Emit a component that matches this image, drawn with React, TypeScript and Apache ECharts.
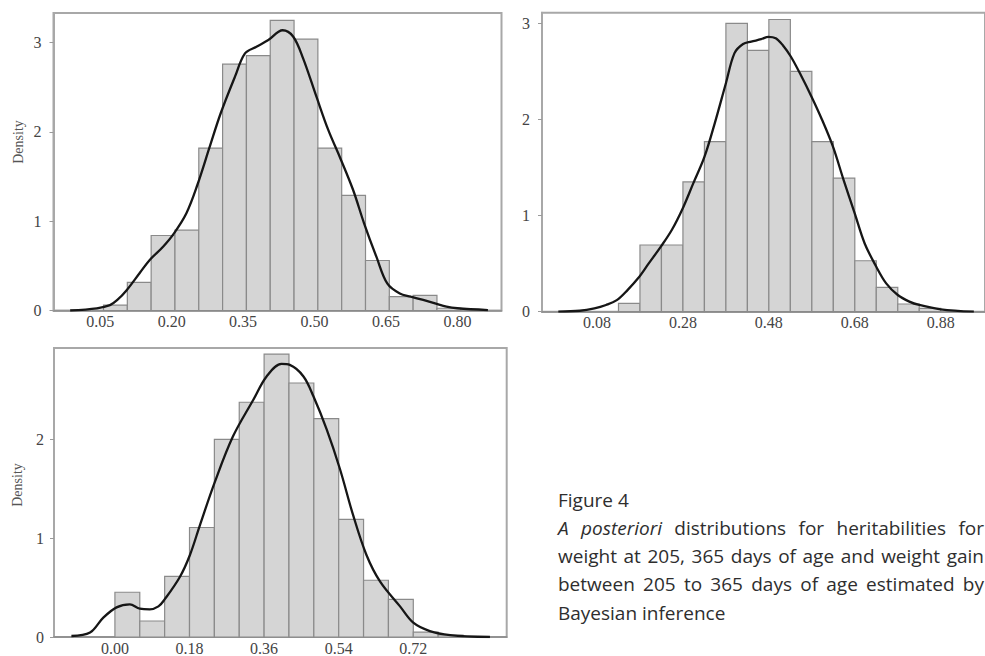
import React, { useEffect, useRef } from "react";
import * as echarts from "echarts";

// ---------- data ----------
const p1BinStart = 0.057;
const p1BinWidth = 0.05;
const p1Heights = [0.06, 0.315, 0.84, 0.9, 1.82, 2.76, 2.855, 3.25, 3.04, 1.82, 1.29, 0.56, 0.155, 0.17, 0.025];
const p1Curve: [number, number][] = [
  [-0.013, 0.0], [0.043, 0.025], [0.0705, 0.06], [0.086, 0.118], [0.106, 0.23], [0.133, 0.42],
  [0.154, 0.566], [0.182, 0.715], [0.205, 0.865], [0.231, 1.09], [0.254, 1.406], [0.28, 1.835],
  [0.303, 2.21], [0.333, 2.62], [0.354, 2.88], [0.378, 2.955], [0.403, 3.03], [0.433, 3.14],
  [0.455, 3.07], [0.476, 2.825], [0.504, 2.395], [0.529, 2.02], [0.553, 1.72], [0.581, 1.35],
  [0.604, 0.977], [0.63, 0.6], [0.653, 0.3], [0.679, 0.19], [0.702, 0.155], [0.728, 0.118],
  [0.753, 0.08], [0.777, 0.043], [0.8, 0.025], [0.864, 0.005],
];
const p1XTicks = [0.05, 0.2, 0.35, 0.5, 0.65, 0.8];
const p1YTicks = [0, 1, 2, 3];

const p2BinStart = 0.13;
const p2BinWidth = 0.05;
const p2Heights = [0.087, 0.694, 0.694, 1.35, 1.77, 3.0, 2.72, 3.04, 2.5, 1.77, 1.39, 0.53, 0.254, 0.08, 0.035];
const p2Curve: [number, number][] = [
  [-0.01, 0.0], [0.04, 0.01], [0.074, 0.035], [0.101, 0.07], [0.126, 0.12], [0.151, 0.225],
  [0.176, 0.35], [0.2, 0.5], [0.229, 0.68], [0.254, 0.85], [0.28, 1.08], [0.304, 1.335],
  [0.33, 1.61], [0.354, 1.96], [0.38, 2.377], [0.4, 2.69], [0.42, 2.785], [0.439, 2.81],
  [0.462, 2.835], [0.479, 2.86], [0.496, 2.845], [0.512, 2.775], [0.531, 2.655], [0.554, 2.465],
  [0.579, 2.24], [0.604, 1.995], [0.629, 1.72], [0.654, 1.37], [0.68, 1.02], [0.703, 0.71],
  [0.73, 0.468], [0.753, 0.295], [0.78, 0.174], [0.807, 0.105], [0.83, 0.07], [0.88, 0.025],
  [0.957, 0.0],
];
const p2XTicks = [0.08, 0.28, 0.48, 0.68, 0.88];
const p2YTicks = [0, 1, 2, 3];

const p3BinStart = 0.0;
const p3BinWidth = 0.06;
const p3Heights = [0.453, 0.162, 0.614, 1.108, 2.0, 2.375, 2.863, 2.57, 2.21, 1.19, 0.574, 0.38, 0.05, 0.02];
const p3Curve: [number, number][] = [
  [-0.105, 0.01], [-0.06, 0.045], [-0.028, 0.196], [0.004, 0.3], [0.036, 0.33], [0.06, 0.286],
  [0.084, 0.28], [0.105, 0.31], [0.12, 0.38], [0.157, 0.61], [0.181, 0.83], [0.205, 1.13],
  [0.241, 1.567], [0.285, 2.03], [0.334, 2.4], [0.366, 2.636], [0.402, 2.763], [0.422, 2.753],
  [0.455, 2.636], [0.479, 2.435], [0.511, 2.1], [0.543, 1.7], [0.575, 1.23], [0.607, 0.83],
  [0.64, 0.56], [0.688, 0.31], [0.72, 0.145], [0.76, 0.06], [0.809, 0.02], [0.905, 0.0],
];
const p3XTicks = [0.0, 0.18, 0.36, 0.54, 0.72];
const p3YTicks = [0, 1, 2];

const yAxisTitle = "Density";
const captionTitle = "Figure 4";
const captionLine2 = ["A", "posteriori", "distributions", "for", "heritabilities", "for"];
const captionLine2Italic = [true, true, false, false, false, false];
const captionLine3 = ["weight", "at", "205,", "365", "days", "of", "age", "and", "weight", "gain"];
const captionLine4 = ["between", "205", "to", "365", "days", "of", "age", "estimated", "by"];
const captionLine5 = "Bayesian inference";

// ---------- helpers ----------
const binsToData = (start: number, width: number, heights: number[]) =>
  heights.map((h, i) => [start + i * width, start + (i + 1) * width, h]);

const SERIF = "'Liberation Serif', 'DejaVu Serif', serif";
const SANS = "'Open Sans', 'Noto Sans', sans-serif";
const CAP_SIZE = 19;
const CAP_COLOR = "#2e2e2e";
const CAP_LEFT = 558;
const CAP_RIGHT = 984;

const measureCtx = (() => {
  const c = document.createElement("canvas");
  return c.getContext("2d") as CanvasRenderingContext2D;
})();
const textWidth = (t: string, italic: boolean) => {
  measureCtx.font = `${italic ? "italic " : ""}${CAP_SIZE}px ${SANS}`;
  return measureCtx.measureText(t).width;
};

const justify = (words: string[], italics: boolean[], y: number) => {
  const widths = words.map((w, i) => textWidth(w, italics[i]));
  const total = widths.reduce((a, b) => a + b, 0);
  const gap = (CAP_RIGHT - CAP_LEFT - total) / (words.length - 1);
  let x = CAP_LEFT;
  return words.map((w, i) => {
    const el = {
      type: "text",
      x,
      y,
      style: {
        text: w,
        fontFamily: SANS,
        fontSize: CAP_SIZE,
        fontStyle: italics[i] ? "italic" : "normal",
        fill: CAP_COLOR,
        verticalAlign: "middle",
      },
    };
    x += widths[i] + gap;
    return el;
  });
};

const renderBar = (params: any, api: any) => {
  const x0 = api.value(0);
  const x1 = api.value(1);
  const h = api.value(2);
  const a = api.coord([x0, h]);
  const b = api.coord([x1, 0]);
  return {
    type: "rect",
    shape: { x: a[0], y: a[1], width: b[0] - a[0], height: b[1] - a[1] },
    style: { fill: "#d5d5d5", stroke: "#8a8a8a", lineWidth: 1.2 },
  };
};

export default function App() {
  const ref = useRef<HTMLDivElement>(null);

  useEffect(() => {
    if (!ref.current) return;
    const chart = echarts.init(ref.current, undefined, { renderer: "svg" });

    const grids = [
      { left: 53.5, top: 13, width: 448, height: 297.5 },
      { left: 542, top: 12.7, width: 446, height: 299 },
      { left: 54, top: 348, width: 452.7, height: 291.5 },
    ];
    const xRanges = [
      [-0.048, 0.8925],
      [-0.048, 0.983],
      [-0.147, 0.9454],
    ];
    const yMax = [3.333, 3.111, 2.924];
    const xTicks = [p1XTicks, p2XTicks, p3XTicks];
    const yTicks = [p1YTicks, p2YTicks, p3YTicks];
    const yMargins = [12, 12, 10];

    const option: any = {
      animation: false,
      backgroundColor: "#ffffff",
      grid: grids.map((g) => ({
        ...g,
        show: true,
        borderColor: "#a8a8a8",
        borderWidth: 2,
        backgroundColor: "#ffffff",
        containLabel: false,
      })),
      xAxis: xRanges.map((r, i) => ({
        type: "value",
        gridIndex: i,
        min: r[0],
        max: r[1],
        splitLine: { show: false },
        axisLine: { show: true, onZero: false, lineStyle: { color: "#8a8a8a", width: 1.6 } },
        axisTick: { show: false, customValues: xTicks[i] },
        axisLabel: {
          customValues: xTicks[i],
          formatter: (v: number) => v.toFixed(2),
          fontFamily: SERIF,
          fontSize: 16,
          color: "#444444",
          margin: 3,
        },
      })),
      yAxis: yMax.map((m, i) => ({
        type: "value",
        gridIndex: i,
        min: 0,
        max: m,
        splitLine: { show: false },
        axisLine: { show: true, onZero: false, lineStyle: { color: "#a8a8a8", width: 2 } },
        axisTick: {
          show: true,
          customValues: yTicks[i],
          length: 4,
          lineStyle: { color: "#9a9a9a", width: 1 },
        },
        axisLabel: {
          customValues: yTicks[i],
          formatter: (v: number) => String(v),
          fontFamily: SERIF,
          fontSize: 16,
          color: "#444444",
          margin: yMargins[i],
        },
      })),
      series: [
        {
          type: "custom",
          xAxisIndex: 0,
          yAxisIndex: 0,
          renderItem: renderBar,
          encode: { x: [0, 1], y: 2 },
          data: binsToData(p1BinStart, p1BinWidth, p1Heights),
          z: 2,
        },
        {
          type: "custom",
          xAxisIndex: 1,
          yAxisIndex: 1,
          renderItem: renderBar,
          encode: { x: [0, 1], y: 2 },
          data: binsToData(p2BinStart, p2BinWidth, p2Heights),
          z: 2,
        },
        {
          type: "custom",
          xAxisIndex: 2,
          yAxisIndex: 2,
          renderItem: renderBar,
          encode: { x: [0, 1], y: 2 },
          data: binsToData(p3BinStart, p3BinWidth, p3Heights),
          z: 2,
        },
        ...[p1Curve, p2Curve, p3Curve].map((c, i) => ({
          type: "line",
          xAxisIndex: i,
          yAxisIndex: i,
          data: c,
          smooth: 0.35,
          showSymbol: false,
          symbol: "none",
          lineStyle: { color: "#161616", width: 2.3 },
          z: 5,
        })),
      ],
      graphic: [
        {
          type: "text",
          x: 18,
          y: 142,
          rotation: Math.PI / 2,
          style: {
            text: yAxisTitle,
            fontFamily: SERIF,
            fontSize: 14,
            fill: "#555555",
            align: "center",
            verticalAlign: "middle",
          },
        },
        {
          type: "text",
          x: 17,
          y: 485,
          rotation: Math.PI / 2,
          style: {
            text: yAxisTitle,
            fontFamily: SERIF,
            fontSize: 14,
            fill: "#555555",
            align: "center",
            verticalAlign: "middle",
          },
        },
        {
          type: "text",
          x: CAP_LEFT,
          y: 500,
          style: { text: captionTitle, fontFamily: SANS, fontSize: CAP_SIZE, fill: CAP_COLOR, verticalAlign: "middle" },
        },
        ...justify(captionLine2, captionLine2Italic, 528.3),
        ...justify(captionLine3, captionLine3.map(() => false), 556),
        ...justify(captionLine4, captionLine4.map(() => false), 584.3),
        {
          type: "text",
          x: CAP_LEFT,
          y: 612.7,
          style: { text: captionLine5, fontFamily: SANS, fontSize: CAP_SIZE, fill: CAP_COLOR, verticalAlign: "middle" },
        },
      ],
    };

    chart.setOption(option);
    return () => chart.dispose();
  }, []);

  return (
    <div
      ref={ref}
      style={{ position: "fixed", left: 0, top: 0, width: 985, height: 656, background: "#ffffff" }}
    />
  );
}
